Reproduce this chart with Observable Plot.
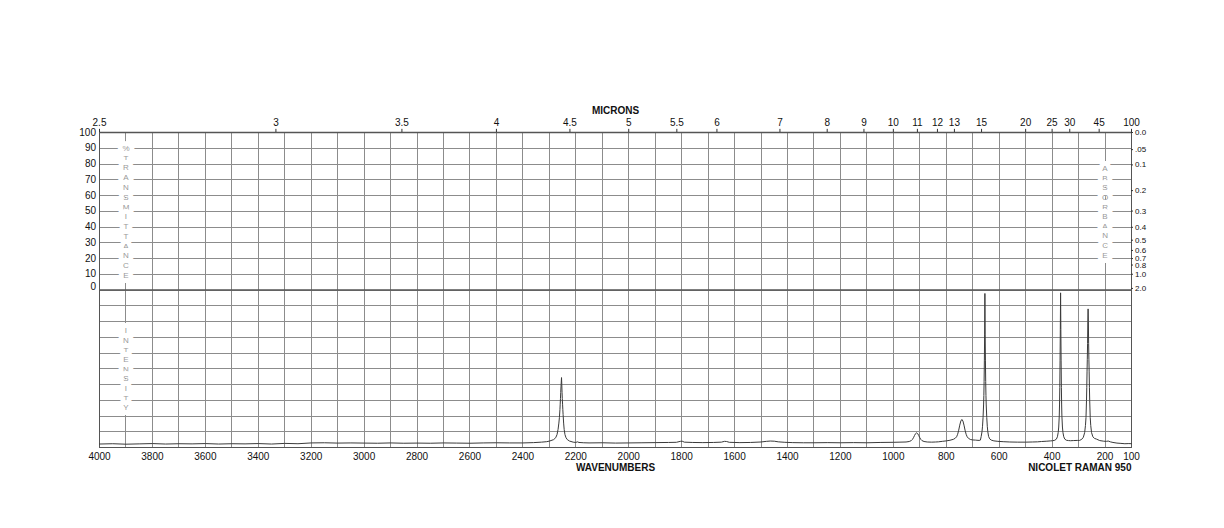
<!DOCTYPE html>
<html>
<head>
<meta charset="utf-8">
<script src="https://cdn.jsdelivr.net/npm/d3@7"></script>
<script src="https://cdn.jsdelivr.net/npm/@observablehq/plot@0.6"></script>
<style>
  html, body { margin: 0; padding: 0; background: #fff; }
  svg { display: block; }
</style>
</head>
<body>
<div id="chart"></div>
<script>
// Raman spectrum: [wavenumber (cm-1), intensity (% of lower panel)]
const spectrum = [
  [4000,2.2],[3950,2.4],[3900,2.1],[3850,2.3],[3800,2.5],[3750,2.2],[3700,2.4],[3650,2.3],
  [3600,2.5],[3550,2.2],[3500,2.4],[3450,2.3],[3400,2.5],[3350,2.2],[3300,2.6],[3250,2.4],
  [3200,2.9],[3150,3.0],[3100,2.8],[3050,2.9],[3000,2.8],[2950,2.7],[2900,2.9],[2850,2.7],
  [2800,2.8],[2750,2.7],[2700,2.9],[2650,2.8],[2600,2.7],[2550,2.9],[2500,3.0],[2450,2.9],
  [2400,2.9],[2360,3.1],[2330,3.4],[2310,3.7],[2299,4.1],[2284,5.0],[2276,6.2],[2271,8.2],
  [2267,11.5],[2264,15.5],[2262,19],[2260,24],[2259,27.5],[2258,31],[2257,35],[2256,38.5],
  [2255,41.5],[2254,44.4],[2253,40],[2252,35],[2251,31],[2250,27.5],[2249,24],[2248,21],
  [2246,15.5],[2244,11.5],[2241,8.2],[2237,6.2],[2232,5.0],[2224,4.1],[2210,3.4],[2200,3.2],
  [2194,3.6],[2188,3.2],[2170,3.0],[2150,2.9],[2100,3.0],[2050,2.8],[2000,2.9],[1950,3.0],
  [1900,3.1],[1850,3.2],[1820,3.3],[1805,3.9],[1798,4.0],[1790,3.4],[1760,3.2],[1720,3.1],
  [1680,3.2],[1650,3.4],[1638,3.9],[1630,3.8],[1620,3.3],[1580,3.1],[1540,3.2],[1500,3.5],
  [1480,3.9],[1465,4.1],[1450,4.0],[1435,3.6],[1410,3.3],[1380,3.1],[1340,3.0],[1300,3.0],
  [1250,3.1],[1200,3.0],[1150,3.1],[1100,3.0],[1050,3.2],[1000,3.3],[975,3.4],[952,3.5],
  [940,3.8],[932,4.4],[928,5.1],[924,6.2],[920,7.6],[916,8.8],[912,9.3],[908,8.8],[904,7.6],
  [900,6.2],[896,5.1],[892,4.4],[884,3.8],[872,3.5],[855,3.4],[840,3.5],[830,3.6],[815,3.9],
  [800,4.2],[786,4.6],[773,5.2],[766,5.9],[761,6.8],[757,8.4],[753,11],[749,14.2],[745,16.8],
  [741,17.8],[737,16.8],[733,14.2],[729,11],[725,8.4],[721,6.8],[716,5.8],[709,5.1],[700,4.8],
  [690,4.7],[684,4.6],[676,4.5],[671,4.7],[668,7],[665,10],[663,13.5],[661,19],[659,27],
  [658,33],[657,42],[656,55],[655,72],[654,97.8],[653,72],[652,55],[651,42],[650,33],[649,27],
  [647,19],[645,13.5],[643,10],[640,7],[636,5.5],[630,4.7],[620,4.2],[605,3.9],[585,3.7],
  [560,3.5],[530,3.4],[500,3.4],[475,3.5],[455,3.6],[440,3.8],[420,4.0],[405,4.2],[398,4.3],
  [390,4.6],[384,5.3],[380,6.8],[377,9.5],[375,13],[373,20],[372,27],[371,38],[370,55],
  [369,75],[368,98.2],[367,75],[366,55],[365,38],[364,27],[363,20],[361,13],[359,9.5],
  [356,6.8],[352,5.3],[346,4.6],[338,4.4],[330,4.3],[320,4.4],[305,4.5],[296,4.5],[288,5.2],
  [282,6.5],[277,9.5],[274,14],[272,19],[270,30],[269,38],[268,48],[267,56],[266,66],[265,80],
  [264,88],[263,80],[262,66],[261,56],[260,48],[259,38],[258,30],[256,19],[254,14],[251,9.5],
  [246,6.8],[240,5.8],[232,5.3],[220,4.4],[205,4.0],[195,3.9],[188,4.1],[180,3.6],[170,3.2],
  [155,2.8],[140,2.6],[125,2.4],[110,2.5],[100,2.4]
];

const wavenumberTicks = [4000,3800,3600,3400,3200,3000,2800,2600,2400,2200,2000,1800,1600,1400,1200,1000,800,600,400,200,100];
const micronTicks = [2.5,3,3.5,4,4.5,5,5.5,6,7,8,9,10,11,12,13,15,20,25,30,45,100];
const transmittanceTicks = [10,20,30,40,50,60,70,80,90,100];
const transmittanceZero = [0];
const absorbanceValues = [0,0.05,0.1,0.2,0.3,0.4,0.5,0.6,0.7,0.8,1.0,2.0];
const absorbanceLabels = ["0.0",".05","0.1","0.2","0.3","0.4","0.5","0.6","0.7","0.8","1.0","2.0"];
const transmittanceWord = "%TRANSMITTANCE";
const absorbanceWord = "ABSORBANCE";
const intensityWord = "INTENSITY";

const gridWavenumbers = d3.range(3900, 100, -100);
const gridLevels = d3.range(-90, 100, 10);
const absorbance = absorbanceValues.map((a, i) => ({a, label: absorbanceLabels[i], t: 100 * Math.pow(10, -a)}));
const points = spectrum.map(([wn, inten]) => ({wn, inten}));
const vertical = w => w.split("").join("\n");

const font = "'Liberation Sans', Arial, Helvetica, sans-serif";
const gridColor = "#8c8c8c";
const letterColor = "#999999";
const ink = "#111";

const chart = Plot.plot({
  width: 1224,
  height: 528,
  marginLeft: 99,
  marginRight: 93,
  marginTop: 132,
  marginBottom: 81,
  style: {fontFamily: font, background: "#fff", color: ink},
  x: {type: "linear", domain: [4000, 100], axis: null},
  y: {type: "linear", domain: [-100, 100], axis: null},
  marks: [
    Plot.ruleX(gridWavenumbers, {x: d => d, stroke: gridColor, strokeWidth: 1, shapeRendering: "crispEdges"}),
    Plot.ruleY(gridLevels, {y: d => d, stroke: gridColor, strokeWidth: 1, shapeRendering: "crispEdges"}),
    Plot.frame({stroke: "#555", strokeWidth: 1, shapeRendering: "crispEdges"}),
    Plot.ruleY([100], {stroke: "#555", strokeWidth: 1.4}),
    Plot.ruleY([0], {stroke: "#555", strokeWidth: 1.7}),
    // spectrum (lower panel: intensity 0..100 maps to -100..0)
    Plot.line(points, {x: "wn", y: d => d.inten - 100, stroke: "#3a3a3a", strokeWidth: 1}),
    // vertical words with white halo
    Plot.text([vertical(transmittanceWord)], {x: 3900, y: 50, text: d => d, fontSize: 8, lineHeight: 1.22, lineAnchor: "middle",
      fill: letterColor, stroke: "white", strokeWidth: 10, strokeLinejoin: "round"}),
    Plot.text([vertical(intensityWord)], {x: 3900, y: -50, text: d => d, fontSize: 8, lineHeight: 1.2, lineAnchor: "middle",
      fill: letterColor, stroke: "white", strokeWidth: 10, strokeLinejoin: "round"}),
    Plot.text([vertical(absorbanceWord)], {x: 200, y: 50, text: d => d, fontSize: 8, lineHeight: 1.2, lineAnchor: "middle",
      fill: letterColor, stroke: "white", strokeWidth: 10, strokeLinejoin: "round"}),
    // left transmittance axis
    Plot.text(transmittanceTicks, {y: d => d, text: d => String(d), frameAnchor: "left", textAnchor: "end", lineAnchor: "middle", dx: -3.5, fontSize: 10, fill: ink}),
    Plot.text(transmittanceZero, {y: d => d, text: d => String(d), frameAnchor: "left", textAnchor: "end", lineAnchor: "middle", dx: -3.5, dy: -3, fontSize: 10, fill: ink}),
    // right absorbance axis
    Plot.ruleY(absorbance, {y: "t", x1: 100, x2: 92.5, stroke: "#333", strokeWidth: 1}),
    Plot.text(absorbance, {y: "t", text: "label", frameAnchor: "right", textAnchor: "start", lineAnchor: "middle", dx: 3.5, fontSize: 8, fill: ink}),
    // top micron axis
    Plot.ruleX(micronTicks, {x: d => 10000 / d, y1: 100, y2: 102, stroke: "#333", strokeWidth: 1}),
    Plot.text(micronTicks, {x: d => 10000 / d, text: d => String(d), frameAnchor: "top", lineAnchor: "middle", dy: -9.5, fontSize: 10, fill: ink}),
    Plot.text(["MICRONS"], {frameAnchor: "top", lineAnchor: "middle", dy: -21.5, fontSize: 10, fontWeight: "bold", fill: ink}),
    // bottom wavenumber axis
    Plot.text(wavenumberTicks, {x: d => d, text: d => String(d), frameAnchor: "bottom", lineAnchor: "middle", dy: 9, fontSize: 10, fill: ink}),
    Plot.text(["WAVENUMBERS"], {frameAnchor: "bottom", lineAnchor: "middle", dy: 20.5, fontSize: 10, fontWeight: "bold", fill: ink}),
    Plot.text(["NICOLET RAMAN 950"], {frameAnchor: "bottom-right", textAnchor: "end", lineAnchor: "middle", dy: 20.5, fontSize: 10, fontWeight: "bold", fill: ink})
  ]
});
document.getElementById("chart").appendChild(chart);
</script>
</body>
</html>
